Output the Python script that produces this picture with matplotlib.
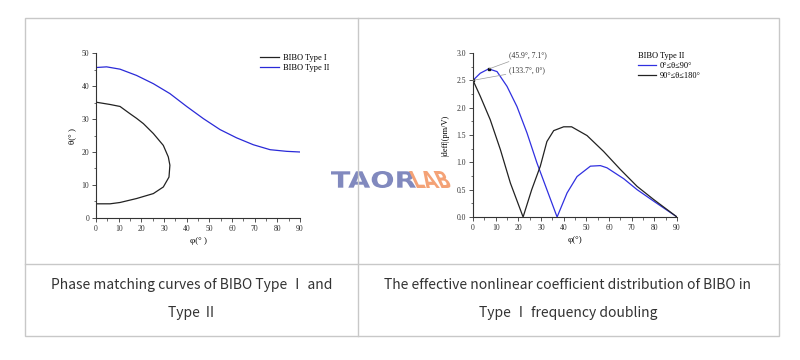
import matplotlib.pyplot as plt
from matplotlib.lines import Line2D
from matplotlib.patches import Rectangle, PathPatch
from matplotlib.textpath import TextPath
from matplotlib.font_manager import FontProperties
from matplotlib.transforms import Affine2D

# left chart: phase matching curves
type1_phi = [0, 6.2, 10.6, 15, 17.9, 20.9, 25.3, 29.7, 31.9, 32.6, 32.2, 29.7, 25.3, 17.9, 10.6, 6.2, 0]
type1_theta = [35.1, 34.4, 33.8, 31.6, 30.2, 28.6, 25.6, 22.0, 18.5, 16.0, 12.4, 9.4, 7.4, 5.9, 4.7, 4.3, 4.3]
type2_phi = [0, 4.7, 10.6, 17.9, 25.3, 32.6, 40, 47.4, 54.7, 62, 69.4, 76.8, 84.1, 90]
type2_theta = [45.6, 45.8, 45.1, 43.2, 40.7, 37.7, 33.8, 30.1, 26.8, 24.3, 22.2, 20.7, 20.2, 20.0]

# right chart: effective nonlinear coefficient
blue_phi = [0, 3.2, 6.9, 10.6, 15, 19.4, 23.8, 28.2, 32.6, 37.1, 41.5, 45.9, 51.8, 56.2, 59.1, 66.5, 72.4, 79.7, 90]
blue_deff = [2.50, 2.63, 2.71, 2.66, 2.39, 2.02, 1.54, 0.99, 0.50, 0.0, 0.44, 0.74, 0.93, 0.94, 0.90, 0.70, 0.50, 0.29, 0.0]
black_phi = [0, 3.2, 7.6, 12.1, 16.5, 22.1, 25.9, 29.7, 32.6, 35.6, 40, 43.5, 50.3, 57.6, 65, 72.4, 79.7, 90]
black_deff = [2.50, 2.21, 1.78, 1.23, 0.62, 0.0, 0.50, 0.93, 1.38, 1.58, 1.65, 1.65, 1.49, 1.20, 0.87, 0.56, 0.32, 0.0]

captions = ["Phase matching curves of BIBO Type \u2160 and\nType \u2161",
            "The effective nonlinear coefficient distribution of BIBO in\nType \u2160 frequency doubling"]

W, H = 800, 360
serif = ['Liberation Serif', 'DejaVu Serif']
fig = plt.figure(figsize=(8, 3.6), dpi=100)


def px_axes(x0, y0, x1, y1):
    return fig.add_axes([x0 / W, 1 - y1 / H, (x1 - x0) / W, (y1 - y0) / H])


def style(ax):
    for s in ['top', 'right']:
        ax.spines[s].set_visible(False)
    for s in ['left', 'bottom']:
        ax.spines[s].set_linewidth(0.8)
        ax.spines[s].set_color('#333333')
    ax.tick_params(which='major', length=3, width=0.6, labelsize=5.5, colors='#333333', pad=2)
    ax.tick_params(which='minor', length=1.8, width=0.5, colors='#333333')
    for lbl in ax.get_xticklabels() + ax.get_yticklabels():
        lbl.set_family(serif)


def logo_text(s, x0, y0, x1, y1, color, style='normal', skew=0):
    # stretch a text path into a pixel box (top-left origin)
    tp = TextPath((0, 0), s, size=1, prop=FontProperties(family='DejaVu Sans', weight='bold', style=style))
    b = tp.get_extents()
    t = (Affine2D().translate(-b.x0, -b.y0)
         .scale((x1 - x0) / b.width / W, (y1 - y0) / b.height / H)
         .skew_deg(skew, 0)
         .translate(x0 / W, 1 - y1 / H))
    fig.add_artist(PathPatch(t.transform_path(tp), transform=fig.transFigure, fc=color, ec='none'))


# table borders
fig.add_artist(Rectangle((25 / W, 1 - 336 / H), (779 - 25) / W, (336 - 18) / H,
                         transform=fig.transFigure, fill=False, ec='#c8c8c8', lw=1))
fig.add_artist(Line2D([358 / W, 358 / W], [1 - 336 / H, 1 - 18 / H], transform=fig.transFigure, color='#c8c8c8', lw=1))
fig.add_artist(Line2D([25 / W, 779 / W], [1 - 264 / H, 1 - 264 / H], transform=fig.transFigure, color='#c8c8c8', lw=1))

# left chart
ax1 = px_axes(96, 53, 300, 218)
ax1.plot(type1_phi, type1_theta, color='#222222', lw=0.9, label='BIBO Type I')
ax1.plot(type2_phi, type2_theta, color='#2a2ad8', lw=0.9, label='BIBO Type II')
ax1.set_xlim(0, 90)
ax1.set_ylim(0, 50)
ax1.set_xticks(range(0, 91, 10))
ax1.set_xticks(range(5, 90, 10), minor=True)
ax1.set_yticks(range(0, 51, 10))
ax1.set_yticks(range(5, 50, 10), minor=True)
style(ax1)
ax1.set_xlabel('\u03c6(\u00b0 )', fontsize=6.5, family=serif, labelpad=3)
ax1.set_ylabel('\u03b8(\u00b0 )', fontsize=6.5, family=serif, labelpad=4)
ax1.legend(loc='upper left', bbox_to_anchor=(0.765, 1.04), frameon=False,
           prop={'family': serif, 'size': 6}, handlelength=2.3, handletextpad=0.5, labelspacing=0.2)

# right chart
ax2 = px_axes(473, 53, 677, 217)
ax2.plot(blue_phi, blue_deff, color='#3030e0', lw=0.9, label='0\u00b0\u2264\u03b8\u226490\u00b0')
ax2.plot(black_phi, black_deff, color='#222222', lw=0.9, label='90\u00b0\u2264\u03b8\u2264180\u00b0')
ax2.plot([7.1, 0], [2.71, 2.50], 's', color='#111111', ms=1.8)
ax2.annotate('(45.9\u00b0, 7.1\u00b0)', xy=(7.1, 2.71), xytext=(15.7, 2.93), fontsize=5.5, family=serif,
             color='#333333', arrowprops=dict(arrowstyle='-', color='#999999', lw=0.5, shrinkA=0, shrinkB=0))
ax2.annotate('(133.7\u00b0, 0\u00b0)', xy=(0, 2.50), xytext=(15.7, 2.64), fontsize=5.5, family=serif,
             color='#333333', arrowprops=dict(arrowstyle='-', color='#999999', lw=0.5, shrinkA=0, shrinkB=0))
ax2.set_xlim(0, 90)
ax2.set_ylim(0, 3.0)
ax2.set_xticks(range(0, 91, 10))
ax2.set_xticks(range(5, 90, 10), minor=True)
ax2.set_yticks([0, 0.5, 1.0, 1.5, 2.0, 2.5, 3.0])
ax2.set_yticks([0.25, 0.75, 1.25, 1.75, 2.25, 2.75], minor=True)
ax2.yaxis.set_major_formatter(plt.FormatStrFormatter('%.1f'))
style(ax2)
ax2.set_xlabel('\u03c6(\u00b0)', fontsize=6.5, family=serif, labelpad=3)
ax2.set_ylabel('|deff|(pm/V)', fontsize=6, family=serif, labelpad=5)
leg = ax2.legend(loc='upper left', bbox_to_anchor=(0.77, 1.05), frameon=False, title='BIBO Type II',
                 prop={'family': serif, 'size': 6}, handlelength=2.2, handletextpad=0.5, labelspacing=0.2)
leg.get_title().set_family(serif)
leg.get_title().set_fontsize(6)
leg._legend_box.align = 'left'

# watermark
logo_text('TAOR', 331, 171, 416, 188, '#8189be')
logo_text('LAB', 417, 171, 452, 188, '#f4a276', skew=-12)

# captions
fig.text(192 / W, 1 - 299 / H, captions[0], ha='center', va='center', fontsize=10, color='#333333',
         family=['Noto Sans CJK SC', 'DejaVu Sans'], linespacing=2.25)
fig.text(568 / W, 1 - 299 / H, captions[1], ha='center', va='center', fontsize=10, color='#333333',
         family=['Noto Sans CJK SC', 'DejaVu Sans'], linespacing=2.25)

fig.savefig('out.png', dpi=100)
